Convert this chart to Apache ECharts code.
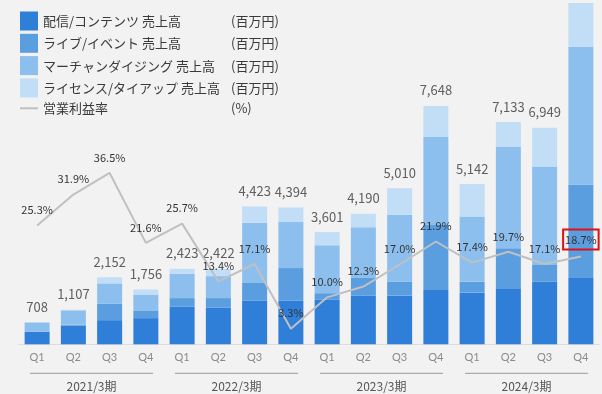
<!DOCTYPE html>
<html><head><meta charset="utf-8">
<script src="https://cdn.jsdelivr.net/npm/echarts@6/dist/echarts.min.js"></script>
<style>html,body{margin:0;padding:0;background:#f2f2f2}#c{width:602px;height:394px}</style>
</head><body><div id="c"></div>
<script>
const quarters = ['Q1','Q2','Q3','Q4','Q1','Q2','Q3','Q4','Q1','Q2','Q3','Q4','Q1','Q2','Q3','Q4'];
const years = ['2021/3期','2022/3期','2023/3期','2024/3期'];
const content = [400, 600, 775, 840, 1205, 1173, 1405, 1398, 1428, 1566, 1561, 1743, 1658, 1800, 2007, 2128];
const live = [0, 30, 525, 248, 278, 310, 562, 1049, 213, 580, 450, 2086, 354, 1286, 538, 2998];
const merch = [300, 460, 655, 508, 780, 705, 1937, 1476, 1535, 1612, 2142, 2824, 2090, 3264, 3166, 4417];
const license = [8, 17, 197, 160, 160, 234, 519, 471, 425, 432, 857, 995, 1040, 783, 1238, 1412];
const totals = [708, 1107, 2152, 1756, 2423, 2422, 4423, 4394, 3601, 4190, 5010, 7648, 5142, 7133, 6949, null];
const margin = [25.3, 31.9, 36.5, 21.6, 25.7, 13.4, 17.1, 3.3, 10.0, 12.3, 17.0, 21.9, 17.4, 19.7, 17.1, 18.7];
const names = ['配信/コンテンツ 売上高','ライブ/イベント 売上高','マーチャンダイジング 売上高','ライセンス/タイアップ 売上高','営業利益率'];
const units = ['(百万円)','(百万円)','(百万円)','(百万円)','(%)'];
const colors = ['#2f7ed8','#5b9ee0','#8cbfee','#c2ddf6'];
const FONT = '"Noto Sans CJK JP", "Noto Sans", sans-serif';

const chart = echarts.init(document.getElementById('c'));
const barSeries = [content, live, merch, license].map((d, k) => ({
  name: names[k], type: 'bar', stack: 's', data: d, barWidth: 25,
  xAxisIndex: 0, yAxisIndex: 0,
  itemStyle: { color: colors[k] },
  label: k === 3 ? {
    show: true, position: 'top', distance: 9, color: '#5f5f5f', fontSize: 13, fontFamily: FONT,
    formatter: p => totals[p.dataIndex] == null ? '' : totals[p.dataIndex].toLocaleString('en-US')
  } : { show: false }
}));
const lineData = margin.map((v, i) => i === 15 ? {
  value: v, label: { borderColor: '#e01010', borderWidth: 2, padding: [5, 2, 4, 2], distance: 7 }
} : v);

chart.setOption({
  backgroundColor: '#f2f2f2',
  animation: false,
  textStyle: { fontFamily: FONT },
  legend: {
    orient: 'vertical', left: 19, top: 11.5, padding: 0, itemWidth: 18, itemHeight: 19, itemGap: 3.3,
    data: names.map((n, i) => i < 4 ? { name: n, icon: 'rect' } : { name: n, itemStyle: { opacity: 0 } }),
    textStyle: {
      fontFamily: FONT, fontSize: 13, color: '#3a3a3a',
      rich: { a: { width: 188, fontSize: 13, color: '#3a3a3a', fontFamily: FONT }, b: { fontSize: 13, color: '#3a3a3a', fontFamily: FONT } }
    },
    formatter: n => '{a|' + n + '}{b|' + units[names.indexOf(n)] + '}'
  },
  grid: { left: 19, right: 3, top: 1.6, bottom: 49.7, containLabel: false },
  xAxis: [
    { type: 'category', data: quarters, axisLine: { show: true, lineStyle: { color: '#dddddd' } }, axisTick: { show: false },
      axisLabel: { margin: 8, color: '#8a8a8a', fontSize: 11, fontFamily: 'Lato, sans-serif', interval: 0 } },
    { type: 'category', data: years, position: 'bottom', axisLine: { show: false }, axisTick: { show: false },
      axisLabel: { margin: 36, color: '#555555', fontSize: 12, fontFamily: FONT, interval: 0 } }
  ],
  yAxis: [
    { type: 'value', min: 0, max: 11000, show: false, splitLine: { show: false } },
    { type: 'value', min: 0, max: 73, show: false, splitLine: { show: false } }
  ],
  series: barSeries.concat([
    { name: names[4], type: 'line', data: lineData, xAxisIndex: 0, yAxisIndex: 1, symbol: 'circle', symbolSize: 0, z: 5,
      lineStyle: { color: '#c0c0c0', width: 2 }, itemStyle: { color: '#c0c0c0' },
      label: { show: true, position: 'top', distance: 10, color: '#333333', fontSize: 11, fontFamily: FONT,
        formatter: p => p.value.toFixed(1) + '%' } },
    { type: 'custom', xAxisIndex: 1, yAxisIndex: 0, data: years.map((y, i) => [i, 0]), silent: true,
      renderItem: (params, api) => {
        const p = api.coord([api.value(0), 0]);
        const w = api.size([1, 0])[0];
        return { type: 'line', shape: { x1: p[0] - w / 2 + 11, y1: p[1] + 29, x2: p[0] + w / 2 - 11, y2: p[1] + 29 },
          style: { stroke: '#9a9a9a', lineWidth: 1 } };
      } }
  ])
});
</script></body></html>
